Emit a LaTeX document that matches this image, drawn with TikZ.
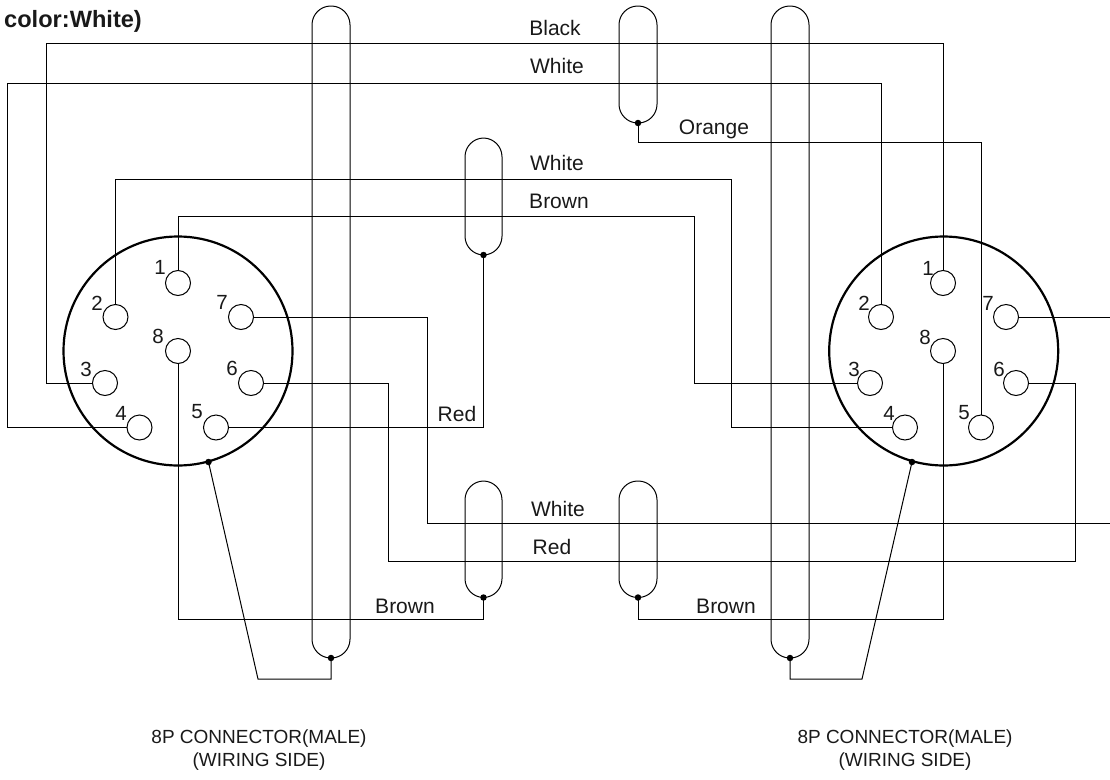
\documentclass[tikz,border=0pt]{standalone}
\usepackage{fontspec}
\setmainfont{Liberation Sans}
\tikzset{
  wire/.style={line width=1pt,black},
  shell/.style={circle,draw=black,line width=2.2pt,minimum size=229pt,inner sep=0pt},
  pin/.style={circle,draw=black,line width=1pt,minimum size=25pt,inner sep=0pt,fill=white},
  num/.style={inner sep=0pt,font=\fontsize{20.5}{22}\selectfont,text=black!90},
  lbl/.style={inner sep=0pt,font=\fontsize{21}{23}\selectfont,text=black!90},
  capt/.style={inner sep=0pt,align=center,font=\fontsize{19}{23}\selectfont,text=black!90},
  dot/.style={circle,fill=black,inner sep=0pt,minimum size=6.5pt},
  loopshape/.style={draw=black,line width=1pt,rounded corners=18.8pt}
}
\begin{document}
\begin{tikzpicture}[x=1pt,y=-1pt]
\useasboundingbox (0,0) rectangle (1110,779);
% shield loops
\draw[loopshape] (312,6) rectangle (350,658);
\draw[loopshape] (771,6) rectangle (809,658);
\draw[loopshape] (619,6) rectangle (657,123);
\draw[loopshape] (465,138) rectangle (502,255);
\draw[loopshape] (465,481) rectangle (502,597.5);
\draw[loopshape] (619,481) rectangle (657,597.5);
\node[dot] (da) at (331,658) {};
\node[dot] (df) at (790,658) {};
\node[dot] (de) at (638,123) {};
\node[dot] (db) at (483.5,255) {};
\node[dot] (dc) at (483.5,597.5) {};
\node[dot] (dd) at (638,597.5) {};
% shells
\node[shell] (sl) at (178,351) {};
\node[shell] (sr) at (943.7,351) {};
\node[dot] (dsl) at (208.5,462) {};
\node[dot] (dsr) at (912,462) {};
% pins
\foreach \n/\x/\y in {1/178/283,2/115.5/317,3/105/383,4/139.5/427.5,5/216/427.5,6/251/383,7/241/317,8/178/351}
  \node[pin] (l\n) at (\x,\y) {};
\foreach \n/\x/\y in {1/943/283,2/881/317,3/870/383,4/905/427.5,5/981/427.5,6/1016/383,7/1006/317,8/943/351}
  \node[pin] (r\n) at (\x,\y) {};
% pin numbers
\foreach \n/\x/\y in {1/160/267,2/97/303,3/86/369,4/121/413,5/197/412,6/232/368,7/222/302,8/158/336}
  \node[num] (nl\n) at (\x,\y) {\n};
\foreach \n/\x/\y in {1/928/268,2/864/303,3/854/369,4/889/413,5/964/413,6/999/369,7/988/303,8/925/337}
  \node[num] (nr\n) at (\x,\y) {\n};
% wires
\coordinate (e7) at (1110,317);
\coordinate (ew) at (1110,523);
\draw[wire] (l3.west) -- (46.5,383) -- (46.5,43) -- (943,43) -- (r1.north);
\draw[wire] (l4.west) -- (7,427.5) -- (7,83) -- (881,83) -- (r2.north);
\draw[wire] (de.center) -- (638,142) -- (981,142) -- (r5.north);
\draw[wire] (l2.north) -- (115.5,179) -- (731,179) -- (731,427.5) -- (r4.west);
\draw[wire] (l1.north) -- (178,216) -- (694,216) -- (694,383) -- (r3.west);
\draw[wire] (l5.east) -- (483.5,427.5) -- (db.center);
\draw[wire] (l7.east) -- (427,317) -- (427,523) -- (ew);
\draw[wire] (l6.east) -- (388,383) -- (388,561.5) -- (1075,561.5) -- (1075,383) -- (r6.east);
\draw[wire] (r7.east) -- (e7);
\draw[wire] (l8.south) -- (178,619) -- (483.5,619) -- (dc.center);
\draw[wire] (r8.south) -- (943,619) -- (638,619) -- (dd.center);
\draw[wire] (dsl.center) -- (258,679) -- (331,679) -- (da.center);
\draw[wire] (dsr.center) -- (862,679) -- (790,679) -- (df.center);
% labels
\node[lbl] (t1) at (555,28) {Black};
\node[lbl] (t2) at (557,66) {White};
\node[lbl] (t3) at (714,129) {Orange};
\node[lbl] (t4) at (557,163) {White};
\node[lbl] (t5) at (559,201) {Brown};
\node[lbl] (t6) at (457,414) {Red};
\node[lbl] (t7) at (558,509) {White};
\node[lbl] (t8) at (552,547) {Red};
\node[lbl] (t9) at (405,606) {Brown};
\node[lbl] (t10) at (726,606) {Brown};
\node[capt] (c1) at (259,750.5) {8P CONNECTOR(MALE)\\(WIRING SIDE)};
\node[capt] (c2) at (905,750.5) {8P CONNECTOR(MALE)\\(WIRING SIDE)};
\node[lbl,anchor=west,font=\fontsize{23.6}{25}\selectfont\bfseries] (tt) at (4,21.5) {color:White)};
\end{tikzpicture}
\end{document}
